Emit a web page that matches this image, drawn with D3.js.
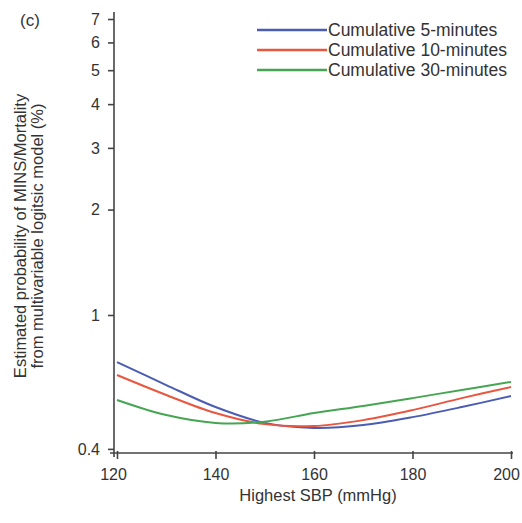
<!DOCTYPE html>
<html>
<head>
<meta charset="utf-8">
<script src="https://cdn.jsdelivr.net/npm/d3@7"></script>
<style>
  body { margin: 0; background: #fff; }
  text { font-family: "Liberation Sans", Arial, sans-serif; fill: #333; }
</style>
</head>
<body>
<div id="chart"></div>
<script>
/* Data. */
const sbp = [120, 130, 140, 150, 160, 170, 180, 190, 200]
const cum5 = [0.734, 0.631, 0.546, 0.492, 0.476, 0.485, 0.511, 0.546, 0.587]
const cum10 = [0.674, 0.591, 0.525, 0.488, 0.482, 0.501, 0.535, 0.579, 0.623]
const cum30 = [0.572, 0.518, 0.492, 0.496, 0.525, 0.55, 0.579, 0.611, 0.644]
const seriesNames = ["Cumulative 5-minutes", "Cumulative 10-minutes", "Cumulative 30-minutes"]
const seriesColors = ["#4a5db3", "#e9563f", "#45a552"]
const yTicks = [0.4, 1, 2, 3, 4, 5, 6, 7]
const xTicks = [120, 140, 160, 180, 200]

/* Define svg-size. */
const width = 522
const height = 523

/* Create svg-element. */
const svg = d3.select("#chart")
  .append("svg")
  .attr("width", width)
  .attr("height", height)

/* Define scales. */
const x = d3.scaleLinear().domain([120, 200]).range([117, 511])
const y = d3.scaleLog().domain([1, 7]).range([315, 19])

const axisX = 114
const axisY = 453

/* Y axis. */
const gy = svg.append("g")
  .attr("transform", `translate(${axisX},0)`)
  .call(d3.axisLeft(y).tickValues(yTicks).tickFormat(d3.format("")).tickSize(6).tickSizeOuter(0).tickPadding(8))
gy.select(".domain").remove()
gy.append("line")
  .attr("y1", 12).attr("y2", 457)
  .attr("stroke", "#444").attr("stroke-width", 1.6)
gy.selectAll(".tick line").attr("stroke", "#444").attr("stroke-width", 1.6)
gy.selectAll(".tick text").style("font-size", "16px").attr("fill", "#333")
/* the bottom label sits just above the x axis in the original */
gy.selectAll(".tick").filter(d => d === 0.4)
  .attr("transform", d => `translate(0,${y(d) - 5})`)

/* X axis. */
const gx = svg.append("g")
  .attr("transform", `translate(0,${axisY})`)
  .call(d3.axisBottom(x).tickValues(xTicks).tickSize(6).tickSizeOuter(0).tickPadding(10))
gx.select(".domain").remove()
gx.append("line")
  .attr("x1", 110).attr("x2", 513)
  .attr("stroke", "#444").attr("stroke-width", 1.6)
gx.selectAll(".tick line").attr("y1", -2).attr("stroke", "#444").attr("stroke-width", 1.6)
gx.selectAll(".tick text")
  .style("font-size", "16px").attr("fill", "#333")
  .attr("dx", d => d === 120 ? -4 : d === 200 ? -5 : 0)

/* Axis titles. */
svg.append("text")
  .attr("x", 318).attr("y", 501)
  .attr("text-anchor", "middle")
  .style("font-size", "16.5px")
  .text("Highest SBP (mmHg)")

const yTitle = svg.append("text")
  .attr("transform", "translate(26,236) rotate(-90)")
  .attr("text-anchor", "middle")
  .style("font-size", "16.5px")
yTitle.append("tspan").attr("x", 0).attr("dy", 0).text("Estimated probability of MINS/Mortality")
yTitle.append("tspan").attr("x", 0).attr("dy", 17).text("from multivariable logitsic model (%)")

/* Panel label. */
svg.append("text")
  .attr("x", 20).attr("y", 26)
  .style("font-size", "17px")
  .text("(c)")

/* Lines. */
const line = d3.line()
  .x((d, i) => x(sbp[i]))
  .y(d => y(d))
  .curve(d3.curveCatmullRom)

const allSeries = [cum5, cum10, cum30]
svg.append("g")
  .selectAll("path")
  .data(allSeries)
  .enter()
  .append("path")
  .attr("fill", "none")
  .attr("stroke", (d, i) => seriesColors[i])
  .attr("stroke-width", 2)
  .attr("d", line)

/* Legend. */
const legend = svg.append("g")
  .selectAll("g")
  .data(seriesNames)
  .enter()
  .append("g")
  .attr("transform", (d, i) => `translate(257,${30 + i * 20})`)

legend.append("line")
  .attr("x1", 0).attr("x2", 70)
  .attr("stroke", (d, i) => seriesColors[i])
  .attr("stroke-width", 2.5)

legend.append("text")
  .attr("x", 71).attr("y", 6)
  .style("font-size", "17.5px")
  .text(d => d)
</script>
</body>
</html>
